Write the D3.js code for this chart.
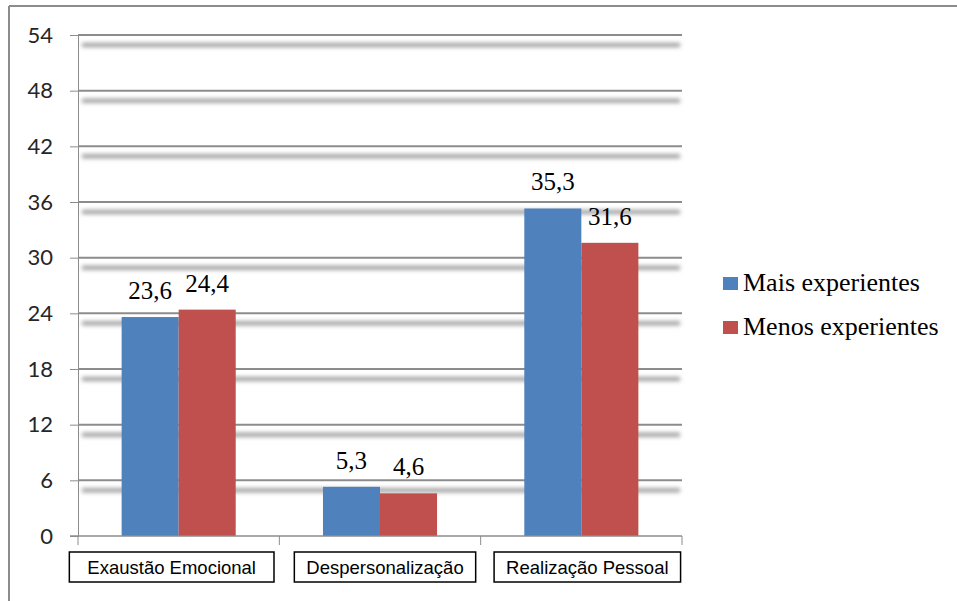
<!DOCTYPE html>
<html>
<head>
	<script src="https://cdn.jsdelivr.net/npm/d3@7"></script>
	<style>
		html, body { padding: 0; margin: 0; background: #fff; }
	</style>
</head>
<body>
	<script>
		var categories = ["Exaustão Emocional", "Despersonalização", "Realização Pessoal"];
		var seriesNames = ["Mais experientes", "Menos experientes"];
		var maisValues = [23.6, 5.3, 35.3];
		var menosValues = [24.4, 4.6, 31.6];
		var yTicks = [0, 6, 12, 18, 24, 30, 36, 42, 48, 54];
		var colors = ["#4f81bd", "#c0504d"];

		var width = 957, height = 601;
		var serif = "Liberation Serif, Times New Roman, serif";

		var svg = d3.select("body").append("svg")
			.attr("width", width)
			.attr("height", height);

		var defs = svg.append("defs");
		defs.append("filter")
			.attr("id", "blur")
			.attr("filterUnits", "userSpaceOnUse")
			.attr("x", 0).attr("y", 0)
			.attr("width", width).attr("height", height)
			.append("feGaussianBlur")
			.attr("stdDeviation", 2);

		// outer frame (cut off at right and bottom)
		svg.append("line")
			.attr("x1", 9).attr("x2", 9).attr("y1", 6).attr("y2", height)
			.attr("stroke", "#8c8c8c").attr("stroke-width", 2);
		svg.append("line")
			.attr("x1", 9).attr("x2", width).attr("y1", 6).attr("y2", 6)
			.attr("stroke", "#8c8c8c").attr("stroke-width", 2);

		var x0 = d3.scaleBand()
			.domain(categories)
			.range([78, 682])
			.paddingInner(0)
			.paddingOuter(0);

		var x1 = d3.scaleBand()
			.domain(seriesNames)
			.range([0, x0.bandwidth()])
			.paddingOuter(0.765)
			.paddingInner(0);

		var y = d3.scaleLinear()
			.domain([0, 54])
			.range([536, 35]);

		// gridline shadows
		svg.append("g").selectAll("line")
			.data(yTicks.filter(function(d) { return d > 0; }))
			.enter().append("line")
			.attr("x1", 82).attr("x2", 680)
			.attr("y1", function(d) { return y(d) + 10; })
			.attr("y2", function(d) { return y(d) + 10; })
			.attr("stroke", "#9a9a9a")
			.attr("stroke-width", 4)
			.attr("filter", "url(#blur)");

		// gridlines
		svg.append("g").selectAll("line")
			.data(yTicks.filter(function(d) { return d > 0; }))
			.enter().append("line")
			.attr("x1", 78).attr("x2", 682)
			.attr("y1", function(d) { return y(d); })
			.attr("y2", function(d) { return y(d); })
			.attr("stroke", "#8c8c8c")
			.attr("stroke-width", 2);

		// y axis
		var yAxis = svg.append("g")
			.attr("transform", "translate(78,0)")
			.call(d3.axisLeft(y).tickValues(yTicks).tickSize(8).tickPadding(17));
		yAxis.select(".domain").attr("stroke", "#8c8c8c").attr("stroke-width", 1);
		yAxis.selectAll(".tick line").attr("stroke", "#8c8c8c");
		yAxis.selectAll("text")
			.attr("fill", "#262626")
			.attr("font-family", "Lato, 'Open Sans', sans-serif")
			.attr("font-size", "22px");

		// bars
		var groups = svg.append("g").selectAll("g")
			.data(categories)
			.enter().append("g")
			.attr("transform", function(d) { return "translate(" + x0(d) + ",0)"; });

		var barData = function(d, i) {
			return [
				{ name: seriesNames[0], value: maisValues[i], color: colors[0] },
				{ name: seriesNames[1], value: menosValues[i], color: colors[1] }
			];
		};

		groups.selectAll("rect")
			.data(barData)
			.enter().append("rect")
			.attr("x", function(d) { return x1(d.name); })
			.attr("width", x1.bandwidth())
			.attr("y", function(d) { return y(d.value); })
			.attr("height", function(d) { return y(0) - y(d.value); })
			.attr("fill", function(d) { return d.color; });

		groups.selectAll("text.val")
			.data(barData)
			.enter().append("text")
			.attr("class", "val")
			.attr("x", function(d) { return x1(d.name) + x1.bandwidth() / 2; })
			.attr("y", function(d) { return y(d.value) - 18; })
			.attr("text-anchor", "middle")
			.attr("font-family", serif)
			.attr("font-size", "25px")
			.attr("fill", "#000")
			.text(function(d) { return d.value.toFixed(1).replace(".", ","); });

		// x axis
		var xAxis = svg.append("g")
			.attr("transform", "translate(0,536)");
		xAxis.append("line")
			.attr("x1", 70).attr("x2", 682)
			.attr("stroke", "#8c8c8c").attr("stroke-width", 1.5);
		xAxis.selectAll("line.tk")
			.data(categories.concat(["end"]))
			.enter().append("line")
			.attr("class", "tk")
			.attr("x1", function(d, i) { return 78 + i * x0.bandwidth(); })
			.attr("x2", function(d, i) { return 78 + i * x0.bandwidth(); })
			.attr("y1", 0).attr("y2", 9)
			.attr("stroke", "#8c8c8c");

		// category labels in boxes
		var labelOffsets = [-7, 5, 6];
		var cat = svg.append("g").selectAll("g")
			.data(categories)
			.enter().append("g");
		cat.append("text")
			.attr("x", function(d, i) { return x0(d) + x0.bandwidth() / 2 + labelOffsets[i]; })
			.attr("y", 574)
			.attr("text-anchor", "middle")
			.attr("font-family", "'Liberation Sans', Arial, sans-serif")
			.attr("font-size", "18.5px")
			.attr("fill", "#000")
			.text(function(d) { return d; });
		cat.each(function(d, i) {
			var t = d3.select(this).select("text");
			var w = t.node().getComputedTextLength();
			var cx = x0(d) + x0.bandwidth() / 2 + labelOffsets[i];
			var pad = i === 0 ? 18 : 12;
			d3.select(this).insert("rect", "text")
				.attr("x", cx - w / 2 - pad)
				.attr("y", 552)
				.attr("width", w + 2 * pad)
				.attr("height", 30)
				.attr("fill", "#fff")
				.attr("stroke", "#000")
				.attr("stroke-width", 1.5);
		});

		// legend
		var legend = svg.append("g").selectAll("g")
			.data(seriesNames)
			.enter().append("g")
			.attr("transform", function(d, i) { return "translate(723," + (283 + i * 44) + ")"; });
		legend.append("rect")
			.attr("x", 0).attr("y", -6)
			.attr("width", 15).attr("height", 13)
			.attr("fill", function(d, i) { return colors[i]; });
		legend.append("text")
			.attr("x", 20).attr("y", 8)
			.attr("font-family", serif)
			.attr("font-size", "26px")
			.attr("fill", "#000")
			.text(function(d) { return d; });
	</script>
</body>
</html>
